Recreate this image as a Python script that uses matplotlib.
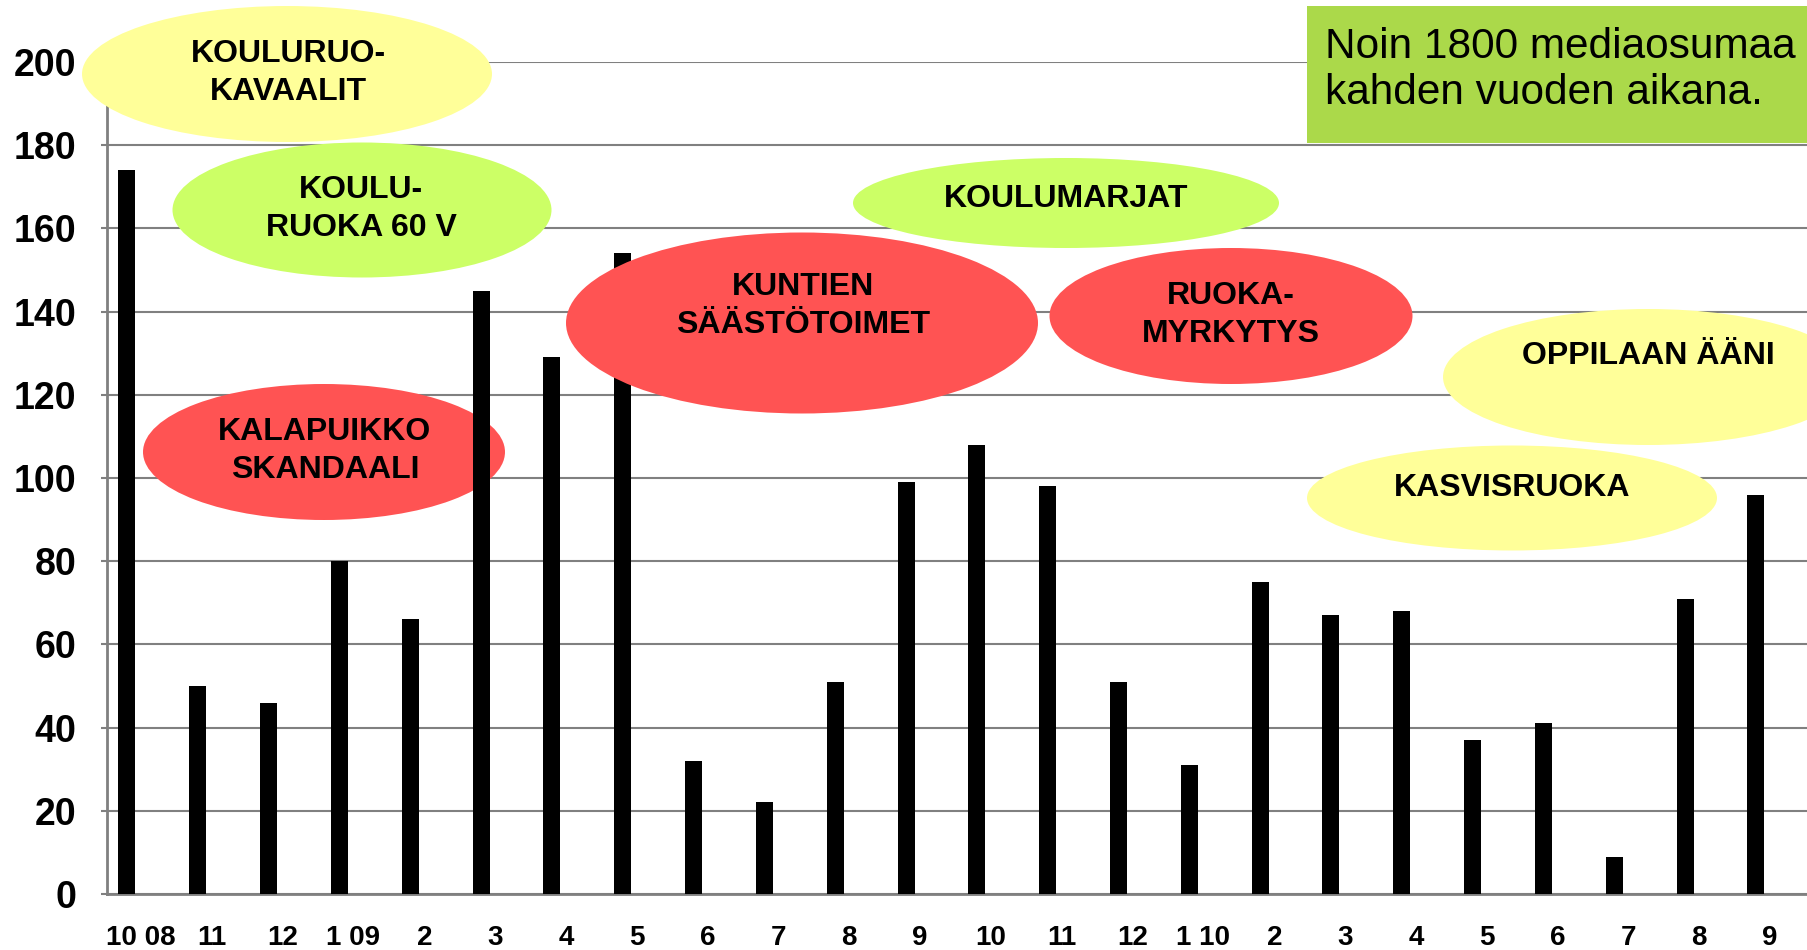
import matplotlib
matplotlib.use("Agg")
import matplotlib.pyplot as plt
from matplotlib.patches import Ellipse, Rectangle
from matplotlib import font_manager

# ---- data ----
months = ["10 08", "11", "12", "1 09", "2", "3", "4", "5", "6", "7", "8", "9",
          "10", "11", "12", "1 10", "2", "3", "4", "5", "6", "7", "8", "9"]
hits = [174, 50, 46, 80, 66, 145, 129, 154, 32, 22, 51, 99,
        108, 98, 51, 31, 75, 67, 68, 37, 41, 9, 71, 96]
yticks = [0, 20, 40, 60, 80, 100, 120, 140, 160, 180, 200]

bubble_texts = ["KOULURUO-\nKAVAALIT", "KOULU-\nRUOKA 60 V", "KALAPUIKKO\nSKANDAALI",
                "KUNTIEN\nSÄÄSTÖTOIMET", "KOULUMARJAT", "RUOKA-\nMYRKYTYS",
                "OPPILAAN ÄÄNI", "KASVISRUOKA"]
note_text = "Noin 1800 mediaosumaa\nkahden vuoden aikana."

# ---- layout (pixels in a 1807x950 canvas) ----
W, H = 1807, 950
YELLOW, GREEN, RED = "#FFFF99", "#CCFF66", "#FF5353"
bubbles = [  # cx, cy, w, h, colour, text y, text x, zorder
    (287, 74, 410, 136, YELLOW, 73, 288, 4),
    (362, 210, 379, 135, GREEN, 209, 361, 4),
    (324, 452, 362, 136, RED, 451, 325, 2.5),
    (802, 323, 472, 181, RED, 306, 803, 4),
    (1066, 203, 426, 90, GREEN, 199, 1066, 4),
    (1231, 316, 363, 136, RED, 315, 1231, 4),
    (1648, 377, 410, 136, YELLOW, 356, 1648, 4),
    (1512, 498, 410, 105, YELLOW, 488, 1512, 4),
]

def fx(x):
    return x / W

def fy(y):
    return 1 - y / H

installed = {f.name for f in font_manager.fontManager.ttflist}
narrow = "Liberation Sans Narrow" if "Liberation Sans Narrow" in installed else "Liberation Sans"
xfs = 24 if narrow == "Liberation Sans Narrow" else 20

fig = plt.figure(figsize=(W / 100, H / 100), dpi=100)
ax = fig.add_axes([fx(107), fy(894), 1 - fx(107), (894 - 62) / H])

x = list(range(len(hits)))
ax.bar(x, hits, width=0.24, color="black", zorder=3)

ax.set_xlim(-0.28, len(hits) - 0.28)
ax.set_ylim(0, 200)
ax.set_yticks(yticks)
ax.set_yticklabels([str(v) for v in yticks], fontsize=27, fontweight="bold",
                   family="Liberation Sans")
ax.set_xticks([i + 0.2 for i in x])
ax.set_xticklabels(months, fontsize=xfs, fontweight="bold", family=narrow)
ax.tick_params(axis="x", length=0, pad=22)
ax.tick_params(axis="y", length=4, width=1.5, color="#808080", pad=18)
ax.grid(axis="y", color="#808080", linewidth=1.5, zorder=1)
ax.set_axisbelow(True)
for s in ["top", "right"]:
    ax.spines[s].set_visible(False)
for s in ["left", "bottom"]:
    ax.spines[s].set_color("#808080")
    ax.spines[s].set_linewidth(2)

for (cx, cy, w, h, col, ty, tx, z), txt in zip(bubbles, bubble_texts):
    e = Ellipse((fx(cx), fy(cy)), w / W, h / H, facecolor=col, edgecolor="none",
                transform=fig.transFigure, zorder=z, clip_on=False)
    ax.add_patch(e)
    ax.text(fx(tx), fy(ty), txt, transform=fig.transFigure, ha="center", va="center",
            fontsize=23, fontweight="bold", family="Liberation Sans",
            linespacing=1.33, zorder=z + 0.1, clip_on=False)

box = Rectangle((fx(1307), fy(143)), 1 - fx(1307), (143 - 6) / H, facecolor="#ABD94A",
                edgecolor="none", transform=fig.transFigure, zorder=6, clip_on=False)
ax.add_patch(box)
ax.text(fx(1325), fy(70), note_text, transform=fig.transFigure, ha="left", va="center",
        fontsize=30.5, family="Liberation Sans", linespacing=1.18, zorder=7, clip_on=False)

fig.savefig("out.png", dpi=100)
